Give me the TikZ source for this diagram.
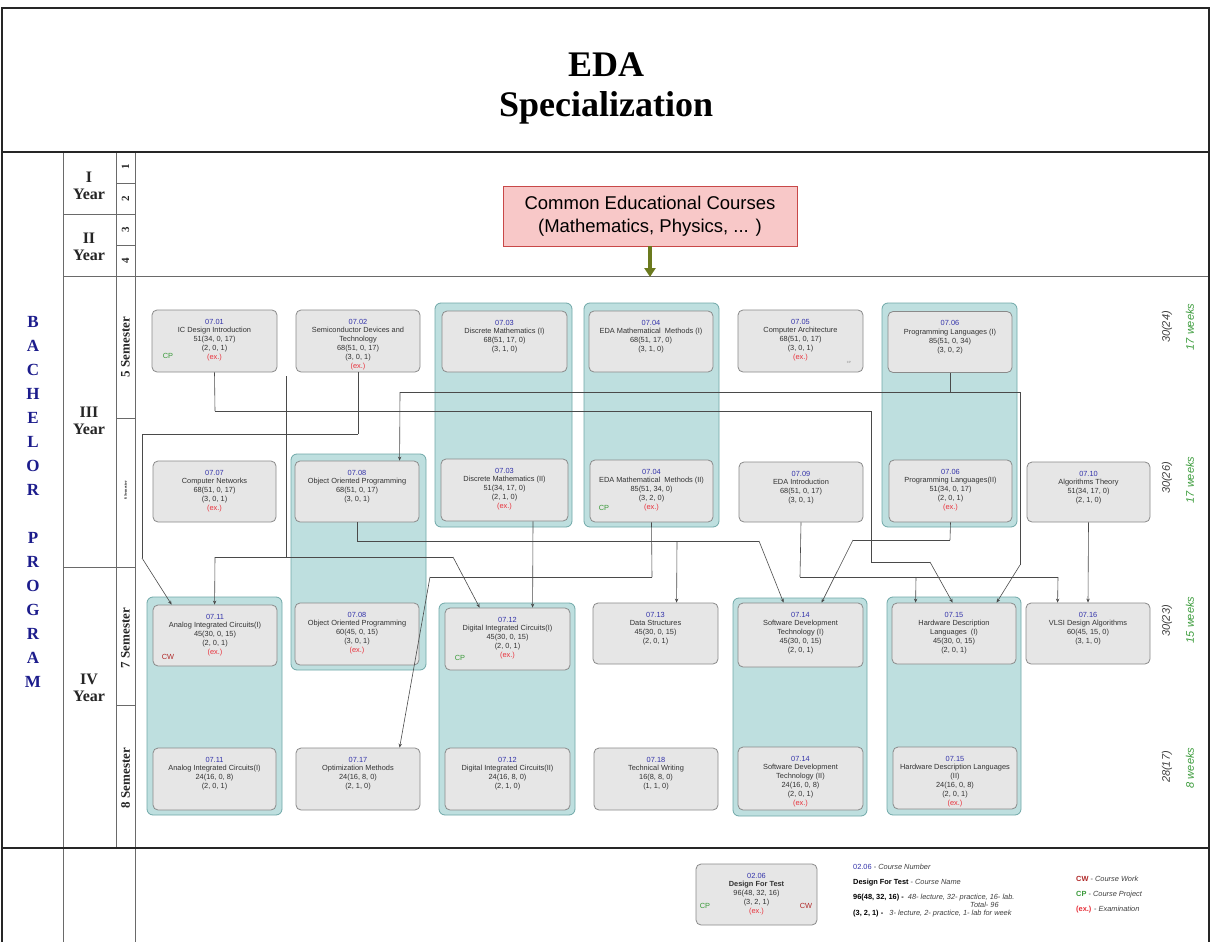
\documentclass[tikz,border=0pt]{standalone}
\usepackage{fontspec}
\setmainfont{Liberation Serif}
\newfontfamily\arial{Liberation Sans}
\usetikzlibrary{arrows.meta,calc}
\definecolor{tealfill}{HTML}{BEDFDF}
\definecolor{tealdraw}{HTML}{6FA8A8}
\definecolor{boxfill}{HTML}{E6E6E6}
\definecolor{boxdraw}{HTML}{8A8A8A}
\definecolor{numblue}{HTML}{3333AA}
\definecolor{exred}{HTML}{E8303A}
\definecolor{cpgreen}{HTML}{3A9A3A}
\definecolor{cwred}{HTML}{B02828}
\definecolor{navy}{HTML}{1C1C8C}
\definecolor{pinkfill}{HTML}{F8C8C8}
\definecolor{pinkdraw}{HTML}{C84848}
\definecolor{olivec}{HTML}{6B7A1E}
\definecolor{weekgreen}{HTML}{3C9C3C}
\definecolor{linegray}{HTML}{4A4A4A}
\definecolor{gridgray}{HTML}{6A6A6A}
\definecolor{txtgray}{HTML}{333333}
\newcommand{\cnum}[1]{\textcolor{numblue}{#1}}
\newcommand{\cex}{\textcolor{exred}{(ex.)}}
\newcommand{\ctext}[3]{\parbox[c][#2pt][t]{#1pt}{\centering\vspace*{9pt}#3\par}}
\newcommand{\course}[6]{\node[course] (#1) at (#2,#3) {\ctext{#4}{#5}{#6}};}
\newcommand{\tealcol}[5]{\node[tealbox, minimum width=#4pt, minimum height=#5pt] (#1) at (#2,#3) {};}
\begin{document}
\begin{tikzpicture}[x=1pt,y=-1pt,
  course/.style={draw=boxdraw, fill=boxfill, rounded corners=5pt, inner sep=0pt, line width=0.8pt,
     font=\arial\fontsize{7.4}{8.8}\selectfont, text=txtgray},
  tealbox/.style={draw=tealdraw, fill=tealfill, rounded corners=6pt, inner sep=0pt, line width=0.8pt},
  conn/.style={draw=linegray, line width=0.6pt},
  arr/.style={conn, -{Stealth[length=4pt,width=3.4pt]}},
  gridline/.style={draw=gridgray, line width=0.8pt},
  frameline/.style={draw=black!85, line width=2pt},
  yearlbl/.style={font=\fontsize{16}{17}\selectfont\bfseries, align=center, text=black!85},
  semlbl/.style={font=\fontsize{13}{14}\selectfont\bfseries, rotate=90, text=black!85},
  letter/.style={font=\fontsize{17}{18}\selectfont\bfseries, text=navy},
  hours/.style={font=\arial\itshape\fontsize{11}{12}\selectfont, rotate=90, text=black!75},
  weeks/.style={font=\arial\itshape\fontsize{11}{12}\selectfont, rotate=90, text=weekgreen},
  cmark/.style={font=\arial\fontsize{7.4}{8}\selectfont, inner sep=0pt},
  legtxt/.style={font=\arial\fontsize{7.4}{9}\selectfont, anchor=west, inner sep=0pt, text=black!75},
  commonbox/.style={draw=pinkdraw, fill=pinkfill, line width=0.8pt, inner sep=0pt,
     font=\arial\fontsize{18.5}{23}\selectfont, align=center},
  olivearrow/.style={draw=olivec, line width=3.5pt, -{Triangle[length=9pt,width=11pt]}}
]
\useasboundingbox (0,0) rectangle (1211,942);
\fill[white] (0,0) rectangle (1211,942);

% ---------- grid ----------
\draw[gridline] (63,152) -- (63,942);
\draw[gridline] (116,152) -- (116,848);
\draw[gridline] (135,152) -- (135,942);
\draw[gridline] (116,183) -- (135,183);
\draw[gridline] (63,214) -- (135,214);
\draw[gridline] (116,245) -- (135,245);
\draw[gridline] (63,276) -- (1209,276);
\draw[gridline] (116,418) -- (135,418);
\draw[gridline] (63,567) -- (135,567);
\draw[gridline] (116,705) -- (135,705);
\draw[frameline] (2,942) -- (2,8) -- (1209,8) -- (1209,942);
\draw[frameline] (2,152) -- (1209,152);
\draw[frameline] (2,848) -- (1209,848);

% ---------- title ----------
\node[font=\fontsize{36}{40}\selectfont\bfseries, anchor=base] (title1) at (606,77) {EDA};
\node[font=\fontsize{36}{40}\selectfont\bfseries, anchor=base] (title2) at (606,117) {Specialization};

% ---------- left labels ----------
\foreach \l/\i in {B/0,A/1,C/2,H/3,E/4,L/5,O/6,R/7,P/9,R/10,O/11,G/12,R/13,A/14,M/15}
  \node[letter] (let\i) at (33,{322+24*\i}) {\l};
\node[yearlbl] (y1) at (89,186) {I\\Year};
\node[yearlbl] (y2) at (89,247) {II\\Year};
\node[yearlbl] (y3) at (89,421) {III\\Year};
\node[yearlbl] (y4) at (89,688) {IV\\Year};
\node[semlbl, font=\fontsize{11}{12}\selectfont\bfseries] (s1) at (125.5,167) {1};
\node[semlbl, font=\fontsize{11}{12}\selectfont\bfseries] (s2) at (125.5,199) {2};
\node[semlbl, font=\fontsize{11}{12}\selectfont\bfseries] (s3) at (125.5,230) {3};
\node[semlbl, font=\fontsize{11}{12}\selectfont\bfseries] (s4) at (125.5,261) {4};
\node[semlbl] (s5) at (125.5,347) {5 Semester};
\node[semlbl, font=\fontsize{4}{5}\selectfont\bfseries] (s6) at (125.5,490) {6 Semester};
\node[semlbl] (s7) at (125.5,638) {7 Semester};
\node[semlbl] (s8) at (125.5,778) {8 Semester};

% ---------- right labels ----------
\node[hours] (h5) at (1167,327) {30(24)};
\node[weeks] (w5) at (1190,327) {17 weeks};
\node[hours] (h6) at (1167,478) {30(26)};
\node[weeks] (w6) at (1190,480) {17 weeks};
\node[hours] (h7) at (1167,621) {30(23)};
\node[weeks] (w7) at (1190,620) {15 weeks};
\node[hours] (h8) at (1167,767) {28(17)};
\node[weeks] (w8) at (1190,768) {8 weeks};

% ---------- common courses ----------
\node[commonbox, minimum width=294pt, minimum height=60pt] (common) at (650,216)
  {Common Educational Courses\\(Mathematics, Physics, ... )};
\coordinate (commonend) at (650,277);
\draw[olivearrow] (common.south) -- (commonend);

% ---------- teal containers ----------
\tealcol{t0703}{503.5}{415}{137}{224}
\tealcol{t0704}{651.5}{415}{135}{224}
\tealcol{t0706}{949.5}{415}{135}{224}
\tealcol{t0708}{358.5}{562}{135}{216}
\tealcol{t0711}{214.5}{706}{135}{218}
\tealcol{t0712}{507}{709}{136}{212}
\tealcol{t0714}{800}{707}{134}{218}
\tealcol{t0715}{954}{706}{134}{218}

% ---------- connector junctions ----------
\coordinate (a1) at (215,411);
\coordinate (a2) at (871,411);
\coordinate (a3) at (871,562);
\coordinate (a4) at (930,562);
\draw[conn] (a1) -- (a2) -- (a3) -- (a4);
\coordinate (b1) at (358,434);
\coordinate (b2) at (142,434);
\coordinate (b3) at (142,558);
\draw[conn] (b1) -- (b2) -- (b3);
\coordinate (c1) at (950,392);
\coordinate (c2) at (400,392);
\coordinate (c3) at (1020,392);
\coordinate (c4) at (1020,565);
\draw[conn] (c2) -- (c3) -- (c4);
\coordinate (e0) at (286,376);
\coordinate (e1) at (286,557);
\coordinate (e2) at (215,557);
\coordinate (e3) at (453,557);
\draw[conn] (e0) -- (e1);
\draw[conn] (e2) -- (e3);
\coordinate (d1) at (357,541);
\coordinate (d4) at (677,541);
\coordinate (d5) at (759,541);
\draw[conn] (d1) -- (d5);
\coordinate (k1) at (652,577);
\coordinate (k2) at (430,577);
\draw[conn] (k1) -- (k2);
\coordinate (f1) at (800,577);
\coordinate (f2) at (916,577);
\coordinate (f3) at (1058,577);
\draw[conn] (f1) -- (f3);
\coordinate (g1) at (950,540);
\coordinate (g2) at (853,540);
\draw[conn] (g1) -- (g2);

% ---------- course boxes ----------
\course{c0701}{214.5}{341}{125}{62}{\cnum{07.01}\\IC Design Introduction\\51(34, 0, 17)\\(2, 0, 1)\\\cex}
\course{c0702}{358}{341}{124}{62}{\cnum{07.02}\\Semiconductor Devices and\\Technology\\68(51, 0, 17)\\(3, 0, 1)\\\cex}
\course{c0703a}{504.5}{341.5}{125}{61}{\cnum{07.03}\\Discrete Mathematics (I)\\68(51, 17, 0)\\(3, 1, 0)}
\course{c0704a}{651}{341.5}{124}{61}{\cnum{07.04}\\EDA Mathematical\ \ Methods (I)\\68(51, 17, 0)\\(3, 1, 0)}
\course{c0705}{800.5}{341}{125}{62}{\cnum{07.05}\\Computer Architecture\\68(51, 0, 17)\\(3, 0, 1)\\\cex}
\course{c0706a}{950}{342}{124}{61}{\cnum{07.06}\\Programming Languages (I)\\85(51, 0, 34)\\(3, 0, 2)}
\course{c0707}{214.5}{491.5}{123}{61}{\cnum{07.07}\\Computer Networks\\68(51, 0, 17)\\(3, 0, 1)\\\cex}
\course{c0708a}{357}{491.5}{124}{61}{\cnum{07.08}\\Object Oriented Programming\\68(51, 0, 17)\\(3, 0, 1)}
\course{c0703b}{504.5}{490}{127}{62}{\cnum{07.03}\\Discrete Mathematics (II)\\51(34, 17, 0)\\(2, 1, 0)\\\cex}
\course{c0704b}{651.5}{491}{123}{62}{\cnum{07.04}\\EDA Mathematical\ \ Methods (II)\\85(51, 34, 0)\\(3, 2, 0)\\\cex}
\course{c0709}{801}{492}{124}{60}{\cnum{07.09}\\EDA Introduction\\68(51, 0, 17)\\(3, 0, 1)}
\course{c0706b}{950.5}{491}{123}{62}{\cnum{07.06}\\Programming Languages(II)\\51(34, 0, 17)\\(2, 0, 1)\\\cex}
\course{c0710}{1088.5}{492}{123}{60}{\cnum{07.10}\\Algorithms Theory\\51(34, 17, 0)\\(2, 1, 0)}
\course{c0711a}{215}{635.5}{124}{61}{\cnum{07.11}\\Analog Integrated Circuits(I)\\45(30, 0, 15)\\(2, 0, 1)\\\cex}
\course{c0708b}{357}{634}{124}{62}{\cnum{07.08}\\Object Oriented Programming\\60(45, 0, 15)\\(3, 0, 1)\\\cex}
\course{c0712a}{507.5}{639}{125}{62}{\cnum{07.12}\\Digital Integrated Circuits(I)\\45(30, 0, 15)\\(2, 0, 1)\\\cex}
\course{c0713}{655.5}{633.5}{125}{61}{\cnum{07.13}\\Data Structures\\45(30, 0, 15)\\(2, 0, 1)}
\course{c0714a}{800.5}{635}{125}{64}{\cnum{07.14}\\Software Development\\Technology (I)\\45(30, 0, 15)\\(2, 0, 1)}
\course{c0715a}{954}{633.5}{124}{61}{\cnum{07.15}\\Hardware Description\\Languages\ \ (I)\\45(30, 0, 15)\\(2, 0, 1)}
\course{c0716}{1088}{633.5}{124}{61}{\cnum{07.16}\\VLSI Design Algorithms\\60(45, 15, 0)\\(3, 1, 0)}
\course{c0711b}{214.5}{779}{123}{62}{\cnum{07.11}\\Analog Integrated Circuits(I)\\24(16, 0, 8)\\(2, 0, 1)}
\course{c0717}{358}{779}{124}{62}{\cnum{07.17}\\Optimization Methods\\24(16, 8, 0)\\(2, 1, 0)}
\course{c0712b}{507.5}{779}{125}{62}{\cnum{07.12}\\Digital Integrated Circuits(II)\\24(16, 8, 0)\\(2, 1, 0)}
\course{c0718}{656}{779}{124}{62}{\cnum{07.18}\\Technical Writing\\16(8, 8, 0)\\(1, 1, 0)}
\course{c0714b}{800.5}{778.5}{125}{63}{\cnum{07.14}\\Software Development\\Technology (II)\\24(16, 0, 8)\\(2, 0, 1)\\\cex}
\course{c0715b}{955}{778}{124}{62}{\cnum{07.15}\\Hardware Description Languages\\(II)\\24(16, 0, 8)\\(2, 0, 1)\\\cex}

% ---------- connectors from/to boxes ----------
\draw[conn] (c0701.south) -- (a1);
\draw[arr] (a4) -- ($(c0715a.north west)+(61,0)$);
\draw[conn] (c0702.south) -- (b1);
\draw[arr] (b3) -- ($(c0711a.north west)+(19,0)$);
\draw[conn] (c0706a.south) -- (c1);
\draw[arr] (c2) -- ($(c0708a.north west)+(105,0)$);
\draw[arr] (c4) -- ($(c0715a.north west)+(105,0)$);
\draw[arr] (e2) -- ($(c0711a.north west)+(62,0)$);
\draw[arr] (e3) -- ($(c0712a.north west)+(35,0)$);
\draw[conn] (c0708a.south) -- (d1);
\draw[arr] (d4) -- ($(c0713.north west)+(84,0)$);
\draw[arr] (d5) -- ($(c0714a.north west)+(46,0)$);
\draw[arr] (c0703b.south -| 533,0) -- ($(c0712a.north west)+(88,0)$);
\draw[conn] (c0704b.south) -- (k1);
\draw[arr] (k2) -- ($(c0717.north west)+(104,0)$);
\draw[conn] (c0709.south) -- (f1);
\draw[arr] (f2) -- ($(c0715a.north west)+(24,0)$);
\draw[arr] (f3) -- ($(c0716.north west)+(32,0)$);
\draw[conn] (c0706b.south) -- (g1);
\draw[arr] (g2) -- ($(c0714a.north west)+(84,0)$);
\draw[arr] (c0710.south) -- (c0716.north);

% ---------- CP / CW marks ----------
\node[cmark, text=cpgreen] (m0701) at (168,356) {CP};
\node[cmark, text=cpgreen] (m0704) at (604,508) {CP};
\node[cmark, text=cwred] (m0711) at (168,657) {CW};
\node[cmark, text=cpgreen] (m0712) at (460,658) {CP};
\node[cmark, text=black!50, font=\arial\fontsize{3}{3}\selectfont] (m0705) at (849,362) {CP};

% ---------- legend ----------
\course{leg}{756.5}{894.5}{121}{61}{\cnum{02.06}\\\textbf{Design For Test}\\96(48, 32, 16)\\(3, 2, 1)\\\cex}
\node[cmark, text=cpgreen] (legcp) at (705,906) {CP};
\node[cmark, text=cwred] (legcw) at (806,906) {CW};
\node[legtxt] (l1) at (853,867) {\textcolor{numblue}{02.06} - \textit{Course Number}};
\node[legtxt] (l2) at (853,883) {\textbf{\color{black}Design For Test} - \textit{Course Name}};
\node[legtxt] (l3) at (853,898) {\textbf{\color{black}96(48, 32, 16) -}\ \ \textit{48- lecture, 32- practice, 16- lab.}};
\node[legtxt] (l3b) at (970,905) {\textit{Total- 96}};
\node[legtxt] (l4) at (853,914) {\textbf{\color{black}(3, 2, 1) -}\ \ \ \textit{3- lecture, 2- practice, 1- lab for week}};
\node[legtxt] (l5) at (1076,879) {\textbf{\textcolor{cwred}{CW}} - \textit{Course Work}};
\node[legtxt] (l6) at (1076,895) {\textbf{\textcolor{cpgreen}{CP}} - \textit{Course Project}};
\node[legtxt] (l7) at (1076,910) {\textbf{\textcolor{exred}{(ex.)}} - \textit{Examination}};
\end{tikzpicture}
\end{document}
